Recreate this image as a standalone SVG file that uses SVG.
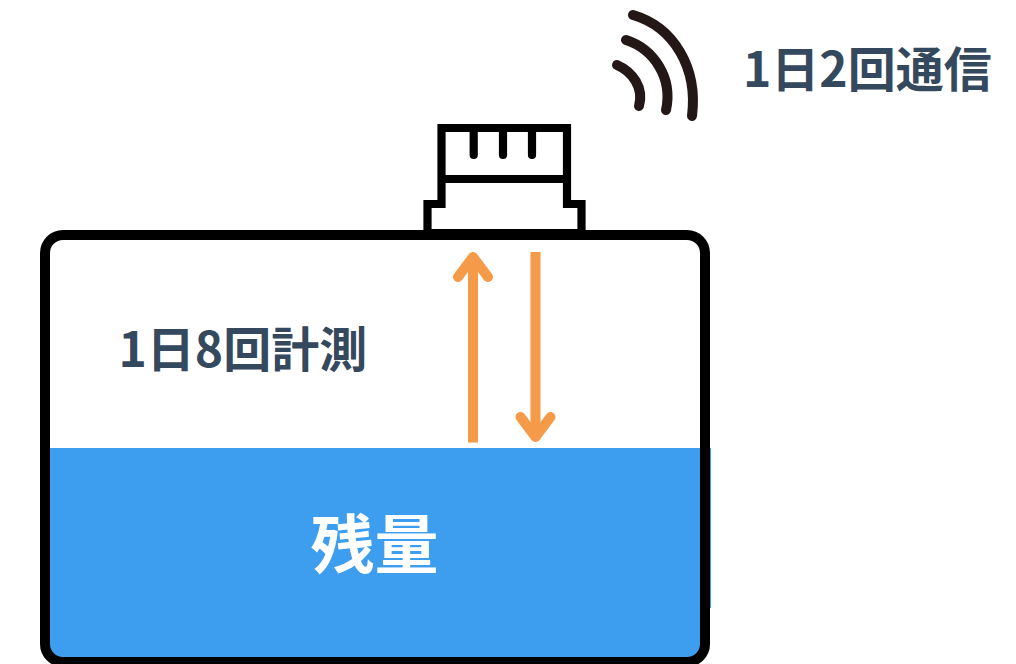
<svg xmlns="http://www.w3.org/2000/svg" width="1016" height="664" viewBox="0 0 1016 664">
<style>
.lbl{font-family:"Noto Sans CJK JP","Noto Sans",sans-serif;font-weight:700}
.dark{fill:#34495e;font-size:48px}
.k{fill:none;stroke:#000;stroke-width:8.2;stroke-linejoin:miter}
.o{fill:none;stroke:#f49a48;stroke-width:10;stroke-linecap:round;stroke-linejoin:round}
.w{fill:none;stroke:#231815;stroke-width:10;stroke-linecap:round}
</style>
<rect width="1016" height="664" fill="#fff"/>
<g id="liquid">
<path d="M50 448H711V608H705V640Q705 662 684 662H66Q45 662 45 640V448Z" fill="#3d9eef"/>
<text class="lbl" x="310.500" y="568" font-size="64" fill="#fff">残量</text>
</g>
<g id="tank">
<rect x="45" y="235" width="660" height="427" rx="18" fill="none" stroke="#000" stroke-width="10"/>
</g>
<g id="sensor">
<path class="k" d="M441.500 204V128H567V204H581.500V234H427.500V204Z"/>
<path class="k" d="M441.500 179H567"/>
<path class="k" stroke-linecap="round" d="M473.700 128V155M503 128V155M532 128V155"/>
<rect x="423.500" y="229" width="162" height="11" rx="2" fill="#000"/>
</g>
<g id="connectors">
<path class="o" style="stroke-linecap:butt" d="M473 442.500V260"/>
<path class="o" d="M458 277L473 257L488 277"/>
<path class="o" style="stroke-linecap:butt" d="M535.500 252V434"/>
<path class="o" d="M520.500 417L535.500 437L550.500 417"/>
</g>
<g id="signal">
<path class="w" d="M633 15C674 27 698 68 692 116"/>
<path class="w" d="M626 40C654 49 673 78 666 110"/>
<path class="w" d="M617 65C633 72 644 88 639 106"/>
</g>
<g id="label-comm"><text class="lbl dark" x="743" y="87">1日2回通信</text></g>
<g id="label-measure"><text class="lbl dark" x="118.500" y="367">1日8回計測</text></g>
</svg>
